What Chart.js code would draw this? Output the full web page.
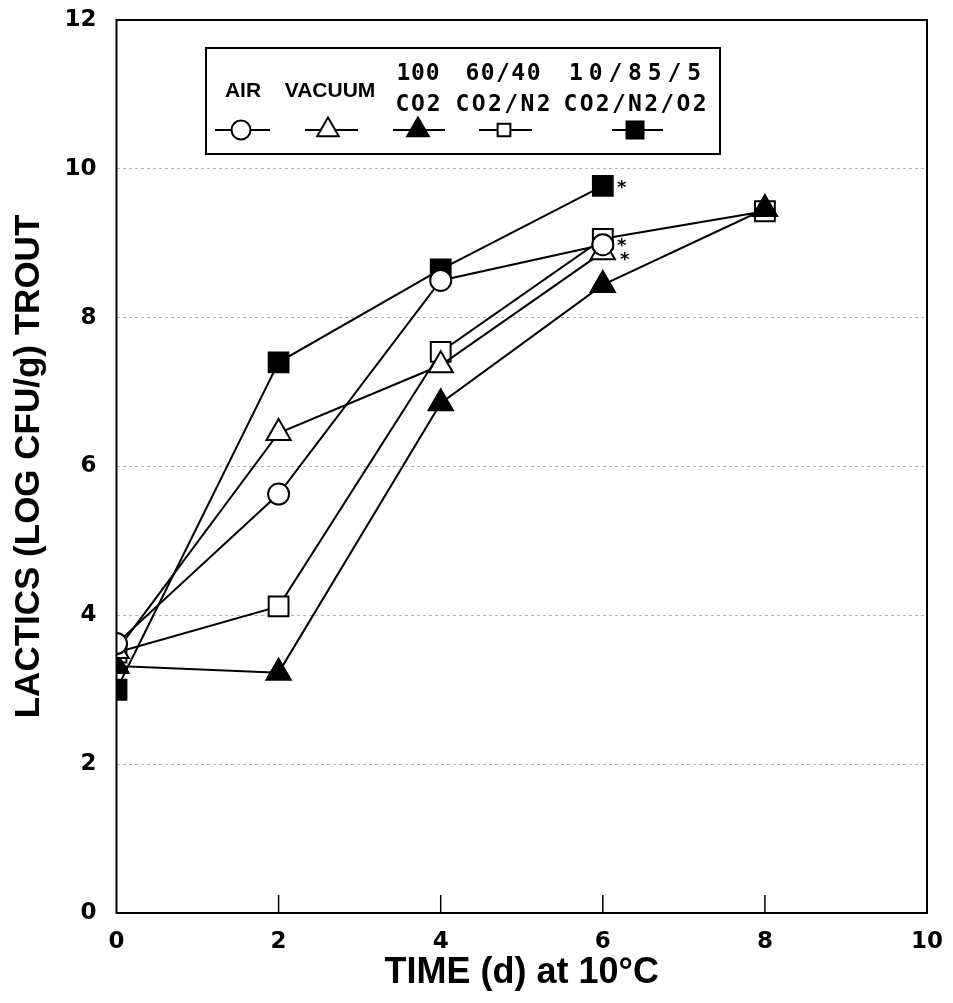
<!DOCTYPE html>
<html><head><meta charset="utf-8">
<script src="https://cdn.jsdelivr.net/npm/chart.js@4/dist/chart.umd.min.js"></script>
<style>html,body{margin:0;padding:0;background:#fff;}canvas{display:block}</style>
</head><body>
<canvas id="c" width="953" height="1003"></canvas>
<script>
// ---- data ----
const days = [0, 2, 4, 6, 8];
const airValues    = [3.62, 5.63, 8.50, 8.98];
const vacuumValues = [3.52, 6.45, 7.36, 8.88];
const co2Values    = [3.32, 3.23, 6.85, 8.44, 9.46];
const co2n2Values  = [3.50, 4.12, 7.54, 9.06, 9.43];
const mixValues    = [3.00, 7.40, 8.65, 9.77];
const seriesNames  = ["AIR", "VACUUM", "100 CO2", "60/40 CO2/N2", "10/85/5 CO2/N2/O2"];
const legendLines  = [["AIR"], ["VACUUM"], ["100", "CO2"], ["60/40", "CO2/N2"], ["10/85/5", "CO2/N2/O2"]];
const starredSeries = [0, 1, 4];
const xTicks = [0, 2, 4, 6, 8, 10];
const yTicks = [0, 2, 4, 6, 8, 10, 12];
const xTitle = "TIME (d) at 10°C";
const yTitle = "LACTICS (LOG CFU/g) TROUT";

function toPoints(vals) { return vals.map((v, i) => ({ x: days[i], y: v })); }

const markerStyles = [
  { pointStyle: 'circle',   radius: 10.5, fill: '#ffffff', legendRadius: 9.5 },
  { pointStyle: 'triangle', radius: 14,   fill: '#ffffff', legendRadius: 12.5 },
  { pointStyle: 'triangle', radius: 14,   fill: '#000000', legendRadius: 12.5 },
  { pointStyle: 'rect',     radius: 14,   fill: '#ffffff', legendRadius: 9 },
  { pointStyle: 'rect',     radius: 14,   fill: '#000000', legendRadius: 12 }
];
const allValues = [airValues, vacuumValues, co2Values, co2n2Values, mixValues];

const datasets = allValues.map((vals, i) => ({
  label: seriesNames[i],
  data: toPoints(vals),
  borderColor: '#000',
  borderWidth: 2,
  backgroundColor: markerStyles[i].fill,
  pointStyle: markerStyles[i].pointStyle,
  pointRadius: markerStyles[i].radius,
  pointHoverRadius: markerStyles[i].radius,
  pointBackgroundColor: markerStyles[i].fill,
  pointBorderColor: '#000',
  pointBorderWidth: 2,
  tension: 0,
  fill: false
}));

const frameAndExtras = {
  id: 'frameAndExtras',
  afterDraw(chart) {
    const ctx = chart.ctx, a = chart.chartArea;
    const xs = chart.scales.x;
    ctx.save();
    // frame
    ctx.strokeStyle = '#000'; ctx.lineWidth = 2;
    ctx.strokeRect(a.left, a.top, a.right - a.left, a.bottom - a.top);
    // inward x ticks
    ctx.lineWidth = 1.5;
    xTicks.forEach(v => {
      if (v === xs.min || v === xs.max) return;
      const px = xs.getPixelForValue(v);
      ctx.beginPath(); ctx.moveTo(px, a.bottom); ctx.lineTo(px, a.bottom - 18); ctx.stroke();
    });
    // asterisks
    ctx.fillStyle = '#000';
    ctx.font = 'bold 18px "DejaVu Sans"';
    ctx.textAlign = 'center'; ctx.textBaseline = 'middle';
    const offs = { 0: [19, 2], 1: [22, 8], 4: [19, 2] };
    starredSeries.forEach(si => {
      const meta = chart.getDatasetMeta(si);
      const last = meta.data[meta.data.length - 1];
      ctx.fillText('*', last.x + offs[si][0], last.y + offs[si][1]);
    });

    // legend box
    const box = { l: 206, t: 48, r: 720, b: 154 };
    ctx.fillStyle = '#fff';
    ctx.fillRect(box.l, box.t, box.r - box.l, box.b - box.t);
    ctx.strokeStyle = '#000'; ctx.lineWidth = 2;
    ctx.strokeRect(box.l, box.t, box.r - box.l, box.b - box.t);

    const items = [
      { cx: 243, seg: [215, 270], mx: 241 },
      { cx: 330, seg: [305, 358], mx: 328 },
      { cx: 418, seg: [393, 445], mx: 418 },
      { cx: 503, seg: [479, 532], mx: 504 },
      { cx: 635, seg: [612, 663], mx: 635 }
    ];
    const widths = { "100": 43, "CO2": 45, "60/40": 75, "CO2/N2": 95, "10/85/5": 132, "CO2/N2/O2": 143 };
    const rowY = 130;
    items.forEach((it, i) => {
      const lines = legendLines[i];
      ctx.fillStyle = '#000';
      if (lines.length === 1) {
        ctx.font = 'bold 21px "Liberation Sans", Arial, sans-serif';
        ctx.textAlign = 'center'; ctx.textBaseline = 'middle';
        ctx.letterSpacing = '0px';
        ctx.fillText(lines[0], it.cx, 91);
      } else {
        ctx.font = 'bold 23px "DejaVu Sans Mono", monospace';
        ctx.textAlign = 'left'; ctx.textBaseline = 'middle';
        lines.forEach((txt, k) => {
          ctx.letterSpacing = '0px';
          const w = ctx.measureText(txt).width;
          const target = widths[txt] || w;
          const sp = txt.length > 1 ? (target - w) / (txt.length - 1) : 0;
          ctx.letterSpacing = sp + 'px';
          ctx.fillText(txt, it.cx - target / 2, k === 0 ? 74 : 105);
        });
        ctx.letterSpacing = '0px';
      }
      // line segment
      ctx.strokeStyle = '#000'; ctx.lineWidth = 2;
      ctx.beginPath(); ctx.moveTo(it.seg[0], rowY); ctx.lineTo(it.seg[1], rowY); ctx.stroke();
      // marker
      const st = markerStyles[i];
      ctx.fillStyle = st.fill; ctx.strokeStyle = '#000'; ctx.lineWidth = 2;
      Chart.helpers.drawPoint(ctx, { pointStyle: st.pointStyle, radius: st.legendRadius, rotation: 0, borderWidth: 2 }, it.mx, rowY);
    });
    ctx.restore();
  }
};

new Chart(document.getElementById('c'), {
  type: 'line',
  data: { datasets },
  options: {
    responsive: false,
    animation: false,
    devicePixelRatio: 1,
    layout: { padding: { top: 20, right: 26, bottom: 0, left: 0 } },
    plugins: { legend: { display: false }, tooltip: { enabled: false } },
    scales: {
      x: {
        type: 'linear', min: 0, max: 10,
        afterBuildTicks: s => { s.ticks = xTicks.map(v => ({ value: v })); },
        afterFit: s => { s.height = 90; s.paddingLeft = 0; s.paddingRight = 0; },
        grid: { display: false, drawTicks: false },
        border: { display: false },
        ticks: { padding: 15, color: '#000', maxRotation: 0, autoSkip: false,
                 font: { family: 'DejaVu Sans', size: 23, weight: 'bold' } },
        title: { display: true, text: xTitle, color: '#000',
                 font: { family: 'Liberation Sans', size: 36, weight: 'bold' },
                 padding: { top: 0, bottom: 8 } }
      },
      y: {
        type: 'linear', min: 0, max: 12,
        afterBuildTicks: s => { s.ticks = yTicks.map(v => ({ value: v })); },
        afterFit: s => { s.width = 116.5; s.paddingTop = 0; s.paddingBottom = 0; },
        grid: { color: 'rgba(0,0,0,0.3)', lineWidth: 1, drawTicks: false },
        border: { display: false, dash: [3, 3] },
        ticks: { padding: 20, color: '#000', autoSkip: false,
                 font: { family: 'DejaVu Sans', size: 23, weight: 'bold' } },
        title: { display: true, text: yTitle, color: '#000',
                 font: { family: 'Liberation Sans', size: 35, weight: 'bold' },
                 padding: { top: 8, bottom: 0 } }
      }
    }
  },
  plugins: [frameAndExtras]
});
</script>
</body></html>
